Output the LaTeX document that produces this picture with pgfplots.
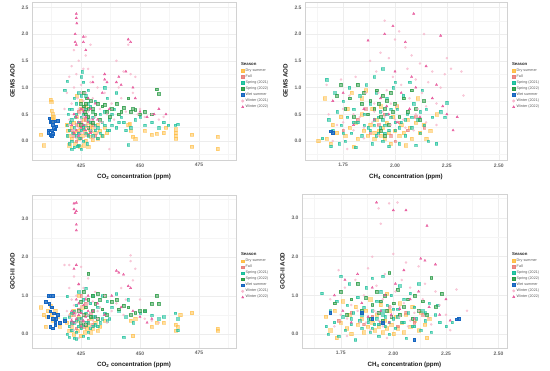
\documentclass[border=0pt]{standalone}
\usepackage{fontspec}
\setmainfont{Liberation Sans}
\usepackage{pgfplots}
\pgfplotsset{compat=1.18}
\definecolor{cdry}{HTML}{FFBE45}
\definecolor{cfall}{HTML}{E9817C}
\definecolor{csp1}{HTML}{19BF9A}
\definecolor{csp2}{HTML}{2A9A45}
\definecolor{cwet}{HTML}{1565C0}
\definecolor{cw1}{HTML}{F6B3C9}
\definecolor{cw2}{HTML}{E6559A}
\pgfplotsset{
  dry/.style={only marks, mark=square*, mark size=1.6pt, color=cdry, mark options={fill opacity=0.5, draw opacity=0.55}},
  fall/.style={only marks, mark=square*, mark size=1.3pt, color=cfall, mark options={fill opacity=0.6, draw opacity=0.6}},
  sp1/.style={only marks, mark=square*, mark size=1.2pt, color=csp1, mark options={fill opacity=0.55, draw opacity=0.6}},
  sp2/.style={only marks, mark=square*, mark size=1.4pt, color=csp2, mark options={fill opacity=0.5, draw opacity=0.75}},
  wet/.style={only marks, mark=square*, mark size=1.3pt, color=cwet, mark options={fill opacity=0.8}},
  w1/.style={only marks, mark=*, mark size=1.1pt, color=cw1, mark options={fill opacity=0.65, draw opacity=0.6}},
  w2/.style={only marks, mark=triangle*, mark size=1.3pt, color=cw2, mark options={fill opacity=0.7}},
  panel/.style={
    scale only axis,
    anchor=south west,
    axis line style={gray!35, line width=0.8pt},
    major tick length=0pt, minor tick length=0pt,
    grid=both,
    major grid style={gray!14, line width=0.4pt},
    minor grid style={gray!8, line width=0.3pt},
    tick label style={font=\fontsize{5}{6}\selectfont\bfseries, text=black!60},
    label style={font=\fontsize{6.2}{7}\selectfont\bfseries, text=black!90},
    /pgf/number format/assume math mode=true,
    yticklabel style={/pgf/number format/.cd, fixed, fixed zerofill, precision=1},
    legend style={draw=none, fill=none, at={(1.025,0.47)}, anchor=west,
      font=\fontsize{3.7}{4.3}\selectfont, text=black!65, row sep=0.9pt, inner sep=0pt,
      nodes={inner sep=0.5pt},
      /tikz/every odd column/.append style={column sep=1.2pt},
      /tikz/every even column/.append style={column sep=1pt}},
    legend cell align=left,
    legend image code/.code={\draw plot coordinates {(0.05cm,0cm)};},
    legend image post style={mark size=1.3pt, mark options={fill opacity=0.9}},
  },
  co2/.style={xmin=404.2, xmax=490.7, xtick={425,450,475}, minor xtick={412.5,437.5,462.5,487.5},
    xlabel={CO\textsubscript{2} concentration (ppm)}},
  ch4/.style={xmin=1.566, xmax=2.54, xtick={1.75,2.00,2.25,2.50}, minor xtick={1.625,1.875,2.125,2.375},
    xticklabel style={/pgf/number format/.cd, fixed, fixed zerofill, precision=2},
    xlabel={CH\textsubscript{4} concentration (ppm)}},
  gems/.style={ymin=-0.355, ymax=2.6, ytick={0,0.5,1,1.5,2,2.5}, minor ytick={-0.25,0.25,0.75,1.25,1.75,2.25}, ylabel={GEMS AOD}},
  goci/.style={ymin=-0.36, ymax=3.62, ytick={0,1,2,3}, minor ytick={0.5,1.5,2.5,3.5}, ylabel={GOCI-II AOD}},
}
\newcommand{\seasonlegend}{%
  \addlegendimage{empty legend}\addlegendentry{\hspace{-4.6pt}\fontsize{4.3}{5}\selectfont\bfseries\color{black!85}Season}
  \addlegendimage{dry}\addlegendentry{Dry summer}
  \addlegendimage{fall}\addlegendentry{Fall}
  \addlegendimage{sp1}\addlegendentry{Spring (2021)}
  \addlegendimage{sp2}\addlegendentry{Spring (2022)}
  \addlegendimage{wet}\addlegendentry{Wet summer}
  \addlegendimage{w1}\addlegendentry{Winter (2021)}
  \addlegendimage{w2}\addlegendentry{Winter (2022)}
}
\begin{document}
\begin{tikzpicture}
% ---------------- Panel 1: CO2 vs GEMS
\begin{axis}[panel, co2, gems, at={(32pt,-160pt)}, width=204pt, height=158pt]
\seasonlegend
\addplot[dry, forget plot] coordinates {(408,0.12)(409,-0.08)(412,0.78)(412.3,0.74)(412.6,0.57)(413,0.5)(413.2,0.45)(412.8,0.42)(413.5,0.38)
(419,0.3)(419.5,0.2)(420,0.1)(420,-0.08)(421,0.25)(421,0.05)(422,0.35)(422,0.15)(422.5,-0.05)(423,0.85)(423,0.45)(423.5,0.2)(424,0.3)(424,0.05)(424.5,-0.1)(425,0.6)(425,0.25)(425.5,0.1)(426,0.4)(426,-0.08)(426.5,0.18)(427,0.28)(427,0.0)(427.5,0.12)(428,0.35)(428,-0.1)(428.5,0.22)(429,0.3)(429,0.08)(430,0.25)(430,0.02)(431,0.15)(432,0.3)(432,0.05)(433,0.2)(434,0.1)(435,0.25)(436,0.15)(445,0.3)(445.5,0.33)(446,0.2)(447,0.08)(448,0.05)(452,0.2)(455,0.12)(457,0.14)(460,0.15)(461,0.25)(465,0.22)(465,0.1)(465,0.15)(465.3,0.05)(472,0.12)(472,-0.1)(483,0.08)(483,-0.15)(425,0.75)(427,0.65)(430,0.55)};
\addplot[fall, forget plot] coordinates {(421,0.2)(422,0.1)(423,0.3)(424,0.15)(425,0.05)(425,0.35)(426,0.22)(427,0.4)(428,0.12)(429,0.18)(430,0.3)(424,0.55)(426,0.6)(431,0.1)(423,0.0)};
\addplot[sp1, forget plot] coordinates {(418,0.95)(419,1.12)(419,0.3)(419,0.1)(419.5,0.5)(420,0.2)(420,-0.05)(420.5,0.35)(421,0.6)(421,0.0)(421.5,0.15)(422,0.25)(422,-0.12)(422.5,0.45)(423,0.1)(423,0.7)(423.5,-0.1)(424,0.35)(424,0.9)(424.5,0.05)(425,1.2)(425,0.2)(425,-0.15)(425.5,1.3)(426,1.1)(426,0.5)(426,0.0)(426.5,0.3)(427,0.15)(427,0.85)(427.5,-0.05)(428,0.4)(428,0.95)(429,0.2)(429,0.65)(430,0.1)(430,0.45)(431,0.3)(431,0.75)(432,0.25)(432,0.05)(433,0.5)(434,0.35)(434,0.1)(435,1.0)(435,0.55)(436,0.8)(436,0.2)(437,0.4)(438,0.3)(439,0.6)(440,0.9)(440,0.25)(442,0.45)(443,0.35)(445,-0.07)(446,0.25)(448,0.4)(450,0.45)(452,0.3)(455,0.35)(458,0.25)(460,0.35)(462,0.3)(465,0.3)(466,0.32)(421,-0.15)(424,-0.08)
(420,0.6)(421,0.4)(422,0.8)(423,0.5)(424,0.15)(425,0.45)(425,0.85)(426,0.25)(427,0.6)(428,0.1)(428,0.7)(429,0.35)(430,0.55)(431,0.2)(433,0.15)(435,0.3)(437,0.2)(438,0.5)(441,0.35)(444,0.2)};
\addplot[sp2, forget plot] coordinates {(425,0.7)(426,0.65)(426.5,0.55)(427,0.7)(427,0.5)(427.5,0.8)(428,0.6)(428,0.45)(429,0.75)(430,0.6)(430,0.35)(431,0.5)(432,0.7)(433,0.4)(434,0.65)(435,0.68)(436,0.55)(437,0.45)(438,0.6)(440,0.7)(441,0.5)(442,0.55)(443,0.62)(445,0.8)(446,0.55)(447,0.6)(448,0.58)(450,0.5)(452,0.55)(455,0.5)(457,0.97)(458,0.88)(425,0.3)(426,0.9)(428,0.25)};
\addplot[wet, forget plot] coordinates {(411,0.15)(412,0.12)(413,0.14)(412.5,0.2)(413.5,0.25)(414,0.22)(412,0.37)(413,0.36)(414,0.37)(415,0.38)(411.5,0.43)(412,0.35)(413,0.3)(414.5,0.28)(412.5,0.1)(411,0.2)};
\addplot[w1, forget plot] coordinates {(418,0.6)(419,0.9)(420,1.2)(420,0.4)(421,1.4)(421,0.7)(421.5,0.2)(422,1.7)(422,1.0)(422,0.5)(423,1.25)(423,0.3)(423.5,0.8)(424,1.5)(424,0.6)(424,0.1)(425,1.05)(425,0.4)(426,1.35)(426,0.75)(426,0.15)(427,1.6)(427,0.9)(427,0.3)(428,1.35)(428,0.55)(429,1.1)(429,0.2)(430,1.2)(430,0.8)(431,0.45)(432,1.0)(433,0.6)(434,0.35)(435,0.9)(436,0.5)(437,-0.15)(438,0.7)(439,0.4)(440,1.5)(441,1.0)(442,0.8)(443,1.3)(444,0.55)(445,1.8)(446,1.25)(447,0.9)(448,1.2)(449,0.5)(450,0.6)(452,0.45)(455,0.5)(458,0.4)(460,0.45)(427,1.95)(429,1.8)
(420,0.3)(421,0.1)(422,0.2)(423,0.05)(424,0.25)(425,0.15)(425,0.9)(426,0.45)(427,0.1)(428,0.25)(429,0.4)(430,0.05)(431,0.25)(432,0.15)(433,0.35)};
\addplot[w2, forget plot] coordinates {(423,2.38)(423,2.3)(423.2,2.2)(422.5,2.0)(422.5,1.85)(423,1.8)(426,1.95)(426,1.85)(427,1.7)(422,0.5)(423,0.2)(424,0.35)(425,0.6)(426,0.3)(427,0.45)(428,0.8)(429,0.6)(430,1.1)(431,0.7)(432,0.4)(435,1.25)(435,1.15)(436,1.1)(434,0.9)(437,0.6)(440,1.1)(441,1.2)(442,1.05)(444,1.3)(445,1.9)(446,1.85)(447,1.0)(448,0.8)(450,0.55)(453,0.45)(456,0.5)(458,0.6)(461,0.5)
(421,0.3)(422,0.15)(423,0.45)(424,0.1)(425,0.25)(426,0.55)(427,0.2)(428,0.35)(429,0.15)(430,0.4)};
\end{axis}
% ---------------- Panel 2: CH4 vs GEMS
\begin{axis}[panel, ch4, gems, at={(305pt,-160pt)}, width=202pt, height=158pt]
\seasonlegend
\addplot[dry, forget plot] coordinates {(1.63,0.0)(1.66,0.8)(1.67,0.05)(1.69,-0.05)(1.7,0.3)(1.72,0.15)(1.74,0.45)(1.76,0.1)(1.77,0.6)(1.78,0.25)(1.8,-0.1)(1.81,0.35)(1.82,0.05)(1.84,0.5)(1.85,0.2)(1.86,0.95)(1.87,0.1)(1.88,0.3)(1.89,0.6)(1.9,0.15)(1.9,0.05)(1.91,0.4)(1.92,0.2)(1.93,0.1)(1.93,0.65)(1.94,0.25)(1.95,0.05)(1.96,0.35)(1.97,0.15)(1.98,-0.05)(1.99,0.45)(2.0,0.2)(2.01,0.65)(2.02,0.1)(2.03,0.3)(2.04,0.15)(2.05,-0.08)(2.06,0.4)(2.07,0.25)(2.08,0.05)(2.1,0.35)(2.11,0.8)(2.12,0.15)(2.14,0.3)(2.15,0.05)(2.17,0.2)(2.2,0.5)(1.79,0.9)(1.84,0.8)};
\addplot[fall, forget plot] coordinates {(1.75,0.2)(1.82,0.4)(1.88,0.15)(1.92,0.3)(1.95,0.5)(1.98,0.1)(2.02,0.35)(2.06,0.2)(2.1,0.45)(2.14,0.25)(1.86,0.6)(2.0,0.0)};
\addplot[sp1, forget plot] coordinates {(1.65,0.05)(1.67,1.15)(1.68,0.4)(1.69,-0.1)(1.7,0.2)(1.71,0.9)(1.72,0.55)(1.73,-0.05)(1.74,0.3)(1.75,0.75)(1.76,0.0)(1.77,0.45)(1.78,1.0)(1.79,0.15)(1.8,0.6)(1.81,-0.12)(1.82,0.35)(1.83,0.85)(1.84,0.1)(1.85,0.5)(1.86,1.05)(1.87,0.25)(1.88,0.7)(1.89,-0.05)(1.9,0.4)(1.91,0.9)(1.92,0.15)(1.93,0.55)(1.94,1.35)(1.94,0.0)(1.95,0.3)(1.96,0.8)(1.97,-0.1)(1.98,0.45)(1.99,1.0)(2.0,0.2)(2.01,0.6)(2.02,-0.05)(2.03,0.35)(2.04,0.85)(2.05,0.1)(2.06,0.5)(2.07,1.1)(2.08,0.25)(2.09,0.7)(2.1,-0.08)(2.11,0.4)(2.12,0.15)(2.13,0.95)(2.14,0.3)(2.15,0.6)(2.16,0.0)(2.18,0.45)(2.2,-0.05)(2.22,0.55)(2.24,0.45)(2.25,0.72)(2.0,1.1)(1.9,1.2)
(1.88,0.2)(1.9,0.3)(1.91,0.1)(1.92,0.45)(1.93,0.25)(1.94,0.4)(1.95,0.15)(1.96,0.5)(1.97,0.2)(1.98,0.6)(2.0,0.35)(2.02,0.25)(1.85,0.3)(1.8,0.35)(1.75,0.15)(2.05,0.4)(2.08,0.45)(2.12,0.55)};
\addplot[sp2, forget plot] coordinates {(1.72,0.85)(1.74,1.05)(1.76,0.6)(1.78,0.8)(1.8,0.45)(1.82,1.05)(1.84,0.7)(1.85,0.9)(1.87,0.5)(1.88,0.75)(1.9,0.6)(1.91,0.95)(1.92,0.7)(1.93,0.45)(1.94,0.85)(1.95,0.6)(1.96,0.75)(1.97,0.3)(1.98,0.9)(1.99,0.55)(2.0,0.7)(2.02,0.45)(2.04,0.8)(2.06,0.55)(2.08,0.95)(2.1,0.6)(2.12,0.4)(2.14,0.75)(1.93,0.2)(1.95,0.1)};
\addplot[wet, forget plot] coordinates {(1.69,0.18)(1.7,0.15)};
\addplot[w1, forget plot] coordinates {(1.67,1.05)(1.68,0.5)(1.7,0.0)(1.72,0.3)(1.74,1.15)(1.75,0.6)(1.77,-0.15)(1.78,0.85)(1.8,0.2)(1.81,1.2)(1.83,0.45)(1.85,0.05)(1.86,0.9)(1.88,1.5)(1.89,0.35)(1.9,0.7)(1.91,1.3)(1.92,0.1)(1.93,1.65)(1.94,0.55)(1.95,2.25)(1.96,0.95)(1.97,1.55)(1.98,0.3)(1.99,1.2)(2.0,1.9)(2.01,0.65)(2.02,2.05)(2.03,1.05)(2.04,0.4)(2.05,1.75)(2.06,1.35)(2.07,0.8)(2.08,1.6)(2.09,0.2)(2.1,1.15)(2.11,0.6)(2.12,1.45)(2.13,0.9)(2.14,2.0)(2.15,0.35)(2.16,1.1)(2.18,1.3)(2.2,0.7)(2.22,1.0)(2.24,1.25)(2.25,1.55)(2.27,1.35)(2.32,1.3)(2.33,0.85)
(1.75,0.35)(1.8,0.5)(1.85,0.25)(1.9,0.55)(1.92,0.9)(1.95,0.45)(1.98,0.7)(2.0,0.4)(2.05,0.25)(2.1,0.5)(2.15,0.65)(2.2,0.3)};
\addplot[w2, forget plot] coordinates {(1.7,0.75)(1.75,0.9)(1.8,0.3)(1.85,0.6)(1.87,1.88)(1.9,0.4)(1.93,0.8)(1.95,2.0)(1.97,0.5)(1.99,2.15)(2.0,1.3)(2.01,0.35)(2.03,0.9)(2.05,1.85)(2.07,0.6)(2.09,2.38)(2.1,1.0)(2.12,0.45)(2.15,1.4)(2.18,0.8)(2.2,1.05)(2.22,1.97)(2.23,0.65)(2.25,0.5)(2.28,0.2)(2.3,0.45)(2.08,1.2)(1.96,0.65)};
\end{axis}
% ---------------- Panel 3: CO2 vs GOCI-II
\begin{axis}[panel, co2, goci, at={(32pt,-348pt)}, width=204pt, height=153pt]
\seasonlegend
\addplot[dry, forget plot] coordinates {(408,0.7)(409,0.5)(410,0.2)(410.5,0.45)(411,0.6)(412,0.75)(412.5,0.5)(413,0.35)(414,0.6)(415,0.45)(416,0.2)(419,0.3)(420,0.1)(420.5,0.5)(421,0.2)(422,0.0)(422,0.6)(423,0.35)(423.5,0.1)(424,1.0)(424,0.45)(425,0.2)(425,-0.05)(425.5,0.7)(426,0.3)(426.5,0.05)(427,0.5)(427.5,0.15)(428,0.25)(429,0.05)(429.5,0.4)(430,0.15)(431,0.3)(432,0.1)(433,0.2)(435,0.35)(446,0.35)(447,-0.05)(448,0.4)(455,0.2)(457,0.3)(460,0.3)(465,0.25)(465,0.1)(466,0.2)(467,0.5)(472,0.55)(483,0.1)(483,0.15)};
\addplot[fall, forget plot] coordinates {(421,0.3)(422,0.5)(423,0.15)(424,0.65)(425,0.4)(426,0.2)(427,0.8)(428,0.35)(429,0.55)(430,0.25)(425,1.0)(431,0.45)};
\addplot[sp1, forget plot] coordinates {(418,0.4)(419,0.98)(419,0.0)(420,0.2)(420,-0.08)(421,0.55)(421,0.1)(422,0.3)(422,-0.1)(423,0.75)(423,0.05)(424,0.4)(424,1.1)(425,0.15)(425,0.6)(426,-0.05)(426,0.9)(427,0.3)(427,1.2)(428,0.5)(428,0.05)(429,0.8)(430,0.2)(430,1.0)(431,0.45)(432,0.7)(433,0.3)(434,1.0)(435,0.55)(436,0.85)(437,0.4)(438,0.7)(440,1.05)(441,0.6)(443,-0.08)(444,0.45)(445,0.9)(447,0.3)(450,0.55)(452,0.6)(455,0.5)(458,0.4)(460,0.45)(465,0.55)(466,0.4)(466,0.1)(423,-0.12)(428,-0.1)
(420,0.45)(421,0.3)(422,0.6)(423,0.35)(424,0.2)(425,0.4)(426,0.25)(427,0.55)(428,0.3)(429,0.15)(430,0.45)(431,0.25)(432,0.2)(434,0.4)(436,0.35)};
\addplot[sp2, forget plot] coordinates {(424,0.6)(425,0.3)(425,0.85)(426,0.5)(426,1.1)(427,0.7)(427,0.25)(428,1.57)(428,0.9)(429,0.45)(430,1.0)(430,0.6)(431,0.8)(432,0.4)(433,0.9)(434,0.65)(435,1.0)(436,0.5)(438,0.85)(440,0.9)(441,0.65)(443,0.75)(445,0.7)(446,0.5)(448,0.55)(450,0.6)(452,0.6)(455,0.8)(457,1.0)(458,0.8)(432,1.05)};
\addplot[wet, forget plot] coordinates {(410,0.85)(411,1.0)(411.5,0.8)(412,1.0)(413,1.0)(412,0.6)(412.5,0.7)(413,0.4)(413.5,0.55)(414,0.3)(412,0.2)(413,0.15)(414,0.25)(415,0.5)(416,0.3)(418,0.35)(411,0.45)(414.5,0.4)};
\addplot[w1, forget plot] coordinates {(418,1.8)(419,0.6)(420,1.8)(420,1.2)(421,0.4)(421,0.9)(422,1.5)(422,0.1)(423,1.0)(423,0.55)(424,1.3)(424,-0.1)(425,1.75)(425,0.7)(426,0.3)(426,1.2)(427,0.95)(428,0.5)(428,1.45)(429,0.2)(430,0.85)(431,1.1)(432,0.4)(433,0.7)(435,1.0)(436,0.3)(438,0.6)(440,0.8)(442,1.2)(443,0.5)(444,0.9)(446,2.05)(446,1.9)(447,1.4)(448,1.7)(450,0.9)(452,0.4)(455,0.35)(458,0.3)
(420,0.5)(421,0.2)(422,0.75)(423,0.3)(424,0.6)(425,0.35)(426,0.5)(427,0.25)(428,0.8)(429,0.55)(430,0.35)(432,0.6)};
\addplot[w2, forget plot] coordinates {(422,3.4)(423,3.42)(422,3.25)(423,3.2)(422.5,3.15)(423,2.85)(423,2.7)(423,1.8)(422,1.7)(421,0.6)(422,0.3)(423,0.9)(424,0.5)(424,1.3)(425,0.2)(426,0.75)(427,0.45)(428,1.0)(430,0.6)(432,0.8)(435,0.5)(438,1.0)(440,1.65)(441,1.6)(442,0.7)(443,1.55)(445,1.25)(446,1.2)(447,0.6)(450,0.45)(453,0.3)(455,0.4)
(421,0.35)(422,0.55)(423,0.4)(424,0.8)(425,0.55)(426,0.35)(427,0.9)(428,0.6)};
\end{axis}
% ---------------- Panel 4: CH4 vs GOCI-II
\begin{axis}[panel, ch4, goci, at={(302pt,-348pt)}, width=205pt, height=154pt]
\seasonlegend
\addplot[dry, forget plot] coordinates {(1.68,0.45)(1.7,0.1)(1.72,0.6)(1.73,-0.1)(1.75,0.3)(1.76,0.85)(1.78,0.15)(1.79,0.5)(1.8,0.0)(1.82,0.7)(1.83,0.25)(1.85,0.4)(1.86,0.05)(1.87,0.6)(1.88,0.2)(1.89,0.9)(1.9,0.3)(1.91,0.1)(1.92,0.5)(1.93,0.2)(1.94,0.75)(1.95,0.05)(1.96,0.35)(1.97,0.15)(1.98,0.6)(1.99,0.25)(2.0,0.0)(2.01,0.45)(2.02,0.15)(2.03,0.8)(2.04,0.3)(2.05,0.05)(2.06,0.5)(2.08,0.2)(2.09,0.7)(2.1,0.35)(2.12,0.1)(2.13,0.55)(2.15,0.25)(2.16,-0.1)(2.17,0.4)(1.97,1.05)};
\addplot[fall, forget plot] coordinates {(1.74,0.35)(1.8,0.55)(1.86,0.25)(1.9,0.45)(1.94,0.3)(1.98,0.7)(2.02,0.2)(2.06,0.55)(2.1,0.3)(2.14,0.5)};
\addplot[sp1, forget plot] coordinates {(1.66,1.05)(1.68,0.2)(1.69,0.0)(1.7,0.6)(1.72,0.3)(1.73,0.85)(1.74,-0.05)(1.75,1.5)(1.76,0.45)(1.77,0.1)(1.78,0.75)(1.79,1.3)(1.8,0.25)(1.81,0.55)(1.82,-0.15)(1.83,0.95)(1.84,0.35)(1.85,0.15)(1.86,0.7)(1.87,1.2)(1.88,0.4)(1.89,0.05)(1.9,1.45)(1.9,0.6)(1.91,0.25)(1.92,0.85)(1.93,-0.05)(1.94,1.1)(1.95,0.5)(1.95,1.5)(1.96,0.2)(1.97,0.75)(1.98,0.0)(1.99,1.0)(2.0,0.4)(2.01,0.15)(2.02,0.65)(2.03,1.25)(2.04,0.3)(2.05,0.9)(2.06,-0.1)(2.07,0.55)(2.08,1.05)(2.09,0.2)(2.1,0.7)(2.11,0.4)(2.12,1.3)(2.13,0.1)(2.14,0.6)(2.15,0.35)(2.17,0.8)(2.18,0.05)(2.2,0.5)(2.22,0.3)(2.25,0.2)(2.28,0.3)(2.21,0.75)
(1.88,0.3)(1.9,0.15)(1.92,0.4)(1.93,0.25)(1.95,0.6)(1.96,0.45)(1.98,0.3)(2.0,0.65)(2.02,0.45)(2.05,0.3)(1.8,0.4)(1.85,0.5)(2.1,0.2)(2.15,0.55)};
\addplot[sp2, forget plot] coordinates {(1.72,0.8)(1.75,1.1)(1.78,0.5)(1.8,0.9)(1.83,1.3)(1.85,0.6)(1.87,0.95)(1.89,0.4)(1.9,0.75)(1.92,1.1)(1.93,0.55)(1.94,0.85)(1.95,0.35)(1.96,1.0)(1.97,0.6)(1.98,1.58)(1.99,0.45)(2.0,0.8)(2.02,1.15)(2.03,0.5)(2.05,0.7)(2.07,0.9)(2.09,0.4)(2.1,1.0)(2.12,0.6)(2.14,0.85)(2.16,0.5)(2.18,1.45)(2.2,0.7)(2.23,1.05)};
\addplot[wet, forget plot] coordinates {(1.7,0.55)(1.85,0.55)(1.9,0.4)(2.1,-0.15)(2.3,0.38)(2.31,0.4)(1.95,0.3)};
\addplot[w1, forget plot] coordinates {(1.7,0.9)(1.72,0.2)(1.74,1.65)(1.75,0.5)(1.77,1.2)(1.78,-0.05)(1.8,0.75)(1.82,1.4)(1.84,0.3)(1.86,1.0)(1.88,1.7)(1.89,0.1)(1.9,2.0)(1.91,0.6)(1.92,1.25)(1.93,0.35)(1.94,2.85)(1.95,0.9)(1.96,1.55)(1.97,-0.1)(1.98,3.38)(1.99,0.7)(2.0,2.07)(2.01,1.1)(2.02,3.4)(2.03,0.45)(2.04,1.4)(2.05,0.8)(2.06,1.85)(2.07,0.2)(2.08,1.2)(2.1,0.55)(2.12,1.75)(2.14,0.9)(2.15,1.3)(2.17,0.4)(2.2,1.1)(2.22,0.75)(2.25,0.5)(2.27,0.1)(2.3,1.15)(2.35,0.6)(1.93,3.25)
(1.78,0.4)(1.83,0.6)(1.87,0.3)(1.92,0.55)(1.95,0.2)(1.99,0.45)(2.03,0.7)(2.08,0.35)(2.12,0.6)(2.18,0.25)};
\addplot[w2, forget plot] coordinates {(1.72,1.0)(1.76,0.6)(1.77,1.4)(1.8,0.3)(1.83,1.55)(1.85,0.8)(1.88,0.45)(1.9,1.2)(1.92,3.4)(1.94,0.6)(1.96,1.0)(1.98,0.3)(2.0,3.2)(2.01,1.3)(2.03,0.65)(2.05,1.65)(2.06,3.2)(2.08,0.9)(2.1,0.4)(2.12,1.1)(2.13,1.95)(2.15,1.9)(2.16,2.8)(2.17,0.7)(2.2,1.8)(2.22,0.5)(2.25,0.9)(2.27,0.35)(1.99,0.5)};
\end{axis}
\pgfresetboundingbox
\useasboundingbox (0,0) rectangle (550pt,-371pt);
\end{tikzpicture}
\end{document}
